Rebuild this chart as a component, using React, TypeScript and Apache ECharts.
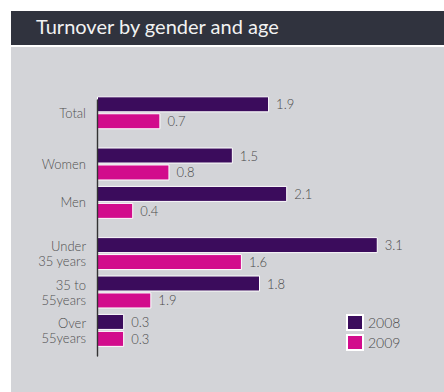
import React, { useEffect, useRef } from "react";
import * as echarts from "echarts";

const categories = ["Total", "Women", "Men", "Under\n35 years", "35 to\n55years", "Over\n55years"];
const values2008 = [1.9, 1.5, 2.1, 3.1, 1.8, 0.3];
const values2009 = [0.7, 0.8, 0.4, 1.6, 0.6, 0.3];
const labels2008 = ["1.9", "1.5", "2.1", "3.1", "1.8", "0.3"];
const labels2009 = ["0.7", "0.8", "0.4", "1.6", "1.9", "0.3"];
const seriesNames = ["2008", "2009"];

// layout: slot index of each category on a fine axis (gaps between groups)
const SLOTS = [1, 5, 8, 12, 15, 18];
const SLOT_COUNT = 21;

export default function App() {
  const ref = useRef<HTMLDivElement>(null);
  useEffect(() => {
    if (!ref.current) return;
    const chart = echarts.init(ref.current, null, { renderer: "svg" });
    const axisCats: string[] = new Array(SLOT_COUNT).fill("");
    SLOTS.forEach((s, i) => (axisCats[s] = categories[i]));
    const mk = (vals: number[], labels: string[]) => {
      const arr: any[] = new Array(SLOT_COUNT).fill("-");
      SLOTS.forEach((s, i) => (arr[s] = { value: vals[i], label: { formatter: labels[i] } }));
      return arr;
    };
    const font = "Lato";
    const fw = 300;
    chart.setOption({
      animation: false,
      backgroundColor: "#d3d4d8",
      textStyle: { fontFamily: font, fontWeight: fw },
      graphic: [
        { type: "rect", left: 0, top: 0, shape: { width: 433, height: 34 }, style: { fill: "#30333e" }, z: 10 },
        { type: "rect", left: 0, top: 34, shape: { width: 433, height: 2 }, style: { fill: "#ffffff" }, z: 10 },
        {
          type: "text",
          left: 25,
          top: 5,
          z: 11,
          style: { text: "Turnover by gender and age", fill: "#f2f2f2", fontSize: 20, fontFamily: font, fontWeight: 400 },
        },
      ],
      legend: {
        orient: "vertical",
        left: 330,
        top: 298,
        itemWidth: 16,
        itemHeight: 15,
        itemGap: 3,
        icon: "rect",
        data: seriesNames,
        textStyle: { fontSize: 14, color: "#4a4a4a", fontFamily: font, fontWeight: fw },
      },
      grid: { left: 86, top: 89, width: 317, bottom: 36 },
      xAxis: { type: "value", min: 0, max: 3.5, show: false },
      yAxis: {
        type: "category",
        inverse: true,
        boundaryGap: false,
        data: axisCats,
        offset: 4,
        z: 5,
        axisLine: { show: true, lineStyle: { color: "#333333", width: 1.4 } },
        axisTick: { show: false },
        axisLabel: { interval: 0, margin: 7, fontSize: 13, color: "#505050", lineHeight: 15, fontFamily: font, fontWeight: fw },
        splitLine: { show: false },
      },
      series: [
        {
          name: seriesNames[0],
          type: "bar",
          data: mk(values2008, labels2008),
          barWidth: 16,
          barGap: "6%",
          itemStyle: { color: "#3b0c5c", borderColor: "#ffffff", borderWidth: 1 },
          label: { show: true, position: "right", distance: 7, fontSize: 13, color: "#4a4a4a", fontFamily: font, fontWeight: fw },
        },
        {
          name: seriesNames[1],
          type: "bar",
          data: mk(values2009, labels2009),
          barWidth: 16,
          itemStyle: { color: "#d20c8c", borderColor: "#ffffff", borderWidth: 1 },
          label: { show: true, position: "right", distance: 7, fontSize: 13, color: "#4a4a4a", fontFamily: font, fontWeight: fw },
        },
      ],
    });
    return () => chart.dispose();
  }, []);
  return (
    <div
      ref={ref}
      style={{ position: "absolute", left: 11, top: 11, width: 433, height: 381 }}
    />
  );
}
